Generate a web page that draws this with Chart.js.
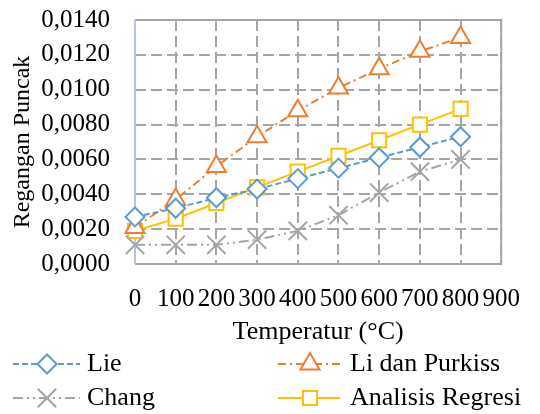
<!DOCTYPE html>
<html>
<head>
<meta charset="utf-8">
<script src="https://cdn.jsdelivr.net/npm/chart.js@4"></script>
<style>
  body { margin: 0; background: #fff; }
  canvas { display: block; }
</style>
</head>
<body>
<canvas id="chart" width="540" height="414"></canvas>
<script>
// data
const temperatures = [0, 100, 200, 300, 400, 500, 600, 700, 800];
const lie = [0.0027, 0.0032, 0.0038, 0.0043, 0.0049, 0.0055, 0.0061, 0.0067, 0.0073];
const liPurkiss = [0.0021, 0.0037, 0.0056, 0.0073, 0.0088, 0.0101, 0.0112, 0.0122, 0.0130];
const chang = [0.0011, 0.0011, 0.0011, 0.0014, 0.0019, 0.0028, 0.0041, 0.0053, 0.0060];
const regresi = [0.0019, 0.0026, 0.0035, 0.0044, 0.0053, 0.0062, 0.0071, 0.0080, 0.0089];
const seriesNames = ['Lie', 'Li dan Purkiss', 'Chang', 'Analisis Regresi'];

const FONT = 'Liberation Serif';
const TICK_SIZE = 25;
const TEXT_SIZE = 26;

function toPoints(arr) {
    return temperatures.map((t, i) => ({ x: t, y: arr[i] }));
}

function makeSet(label, arr, color, dash, style, radius) {
    return {
        label: label,
        data: toPoints(arr),
        borderColor: color,
        borderWidth: 2,
        borderDash: dash,
        pointStyle: style,
        pointRadius: radius,
        pointBorderColor: color,
        pointBackgroundColor: '#fff',
        pointBorderWidth: 2,
        tension: 0,
        clip: false
    };
}

// frame round the plot area (top and right sides are solid too)
const framePlugin = {
    id: 'frame',
    beforeDatasetsDraw(chart) {
        const a = chart.chartArea;
        const ctx = chart.ctx;
        ctx.save();
        ctx.strokeStyle = '#A6A6A6';
        ctx.lineWidth = 2;
        ctx.setLineDash([]);
        ctx.beginPath();
        ctx.moveTo(a.left, a.top);
        ctx.lineTo(a.right, a.top);
        ctx.lineTo(a.right, a.bottom);
        ctx.lineTo(a.left, a.bottom);
        ctx.stroke();
        ctx.strokeStyle = '#B4C7DC';
        ctx.beginPath();
        ctx.moveTo(a.left, a.top);
        ctx.lineTo(a.left, a.bottom);
        ctx.stroke();
        ctx.restore();
    }
};

// two-column legend: line sample + marker + text
const legendPlugin = {
    id: 'colLegend',
    afterDraw(chart) {
        const ctx = chart.ctx;
        const cols = [
            { start: 13, end: 80, mark: 47, text: 87 },
            { start: 278, end: 340, mark: 310, text: 350 }
        ];
        const rowY = [364, 398];
        chart.data.datasets.forEach((ds, i) => {
            const c = cols[i % 2];
            const y = rowY[Math.floor(i / 2)];
            ctx.save();
            ctx.strokeStyle = ds.borderColor;
            ctx.lineWidth = 2;
            ctx.setLineDash(ds.borderDash);
            ctx.beginPath();
            ctx.moveTo(c.start, y);
            ctx.lineTo(c.end, y);
            ctx.stroke();
            ctx.setLineDash([]);
            ctx.fillStyle = '#fff';
            ctx.strokeStyle = ds.borderColor;
            Chart.helpers.drawPoint(ctx, {
                pointStyle: ds.pointStyle,
                radius: ds.pointRadius,
                rotation: 0,
                borderWidth: 2
            }, c.mark, y);
            ctx.fillStyle = '#000';
            ctx.font = TEXT_SIZE + 'px "' + FONT + '"';
            ctx.textBaseline = 'middle';
            ctx.textAlign = 'left';
            ctx.fillText(ds.label, c.text, y);
            ctx.restore();
        });
    }
};

const ctx = document.getElementById('chart').getContext('2d');
const chart = new Chart(ctx, {
    type: 'line',
    data: {
        datasets: [
            makeSet(seriesNames[0], lie, '#5B9BD5', [6, 3], 'rectRot', 9.5),
            makeSet(seriesNames[1], liPurkiss, '#ED7D31', [8, 4, 2, 4], 'triangle', 11),
            makeSet(seriesNames[2], chang, '#A5A5A5', [10, 4, 2, 4, 2, 4], 'crossRot', 13),
            makeSet(seriesNames[3], regresi, '#FFC000', [], 'rect', 10)
        ]
    },
    options: {
        responsive: false,
        animation: false,
        devicePixelRatio: 1,
        layout: {
            autoPadding: false,
            padding: { left: 0, top: 20, right: 27, bottom: 66 }
        },
        plugins: {
            legend: { display: false },
            tooltip: { enabled: false }
        },
        scales: {
            x: {
                type: 'linear',
                min: 0,
                max: 900,
                ticks: {
                    stepSize: 100,
                    autoSkip: false,
                    maxRotation: 0,
                    padding: 20,
                    color: '#000',
                    font: { family: FONT, size: TICK_SIZE },
                    callback: (v) => String(v)
                },
                grid: {
                    color: '#A6A6A6',
                    lineWidth: 2,
                    drawTicks: false
                },
                border: { display: false, dash: [11, 5] },
                title: {
                    display: true,
                    text: 'Temperatur (°C)',
                    color: '#000',
                    font: { family: FONT, size: TEXT_SIZE },
                    padding: 0
                },
                afterFit(scale) { scale.height = 84; }
            },
            y: {
                min: 0,
                max: 0.014,
                ticks: {
                    stepSize: 0.002,
                    autoSkip: false,
                    padding: 25,
                    color: '#000',
                    font: { family: FONT, size: TICK_SIZE },
                    callback: (v) => v.toFixed(4).replace('.', ',')
                },
                grid: {
                    color: '#A6A6A6',
                    lineWidth: 2,
                    drawTicks: false
                },
                border: { display: false, dash: [11, 5] },
                title: {
                    display: true,
                    text: 'Regangan Puncak',
                    color: '#000',
                    font: { family: FONT, size: 24 },
                    padding: { top: 8, bottom: 0 }
                },
                afterFit(scale) {
                    scale.width = 135;
                    scale.paddingTop = 0;
                    scale.paddingBottom = 0;
                }
            }
        }
    },
    plugins: [framePlugin, legendPlugin]
});
</script>
</body>
</html>
